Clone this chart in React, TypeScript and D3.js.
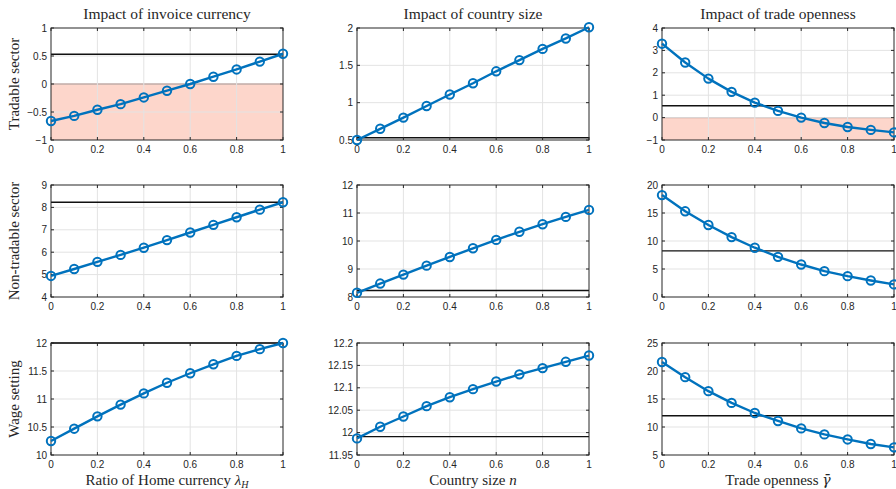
import * as d3 from "d3";

// x grid shared by every panel
const xValues = [0, 0.1, 0.2, 0.3, 0.4, 0.5, 0.6, 0.7, 0.8, 0.9, 1];
const xTicks = [0, 0.2, 0.4, 0.6, 0.8, 1];

const colTitles = ["Impact of invoice currency", "Impact of country size", "Impact of trade openness"];
const rowLabels = ["Tradable sector", "Non-tradable sector", "Wage setting"];

// row 1: tradable sector
const tradInvoice = [-0.66, -0.57, -0.46, -0.36, -0.24, -0.12, 0.0, 0.13, 0.26, 0.40, 0.54];
const tradSize = [0.5, 0.65, 0.8, 0.955, 1.11, 1.26, 1.42, 1.57, 1.72, 1.86, 2.01];
const tradOpen = [3.3, 2.46, 1.74, 1.15, 0.67, 0.3, 0.0, -0.24, -0.42, -0.55, -0.66];
const tradRef = 0.53;

// row 2: non-tradable sector
const nonInvoice = [4.94, 5.25, 5.57, 5.88, 6.2, 6.54, 6.88, 7.22, 7.56, 7.9, 8.23];
const nonSize = [8.15, 8.48, 8.8, 9.12, 9.43, 9.74, 10.04, 10.33, 10.6, 10.86, 11.11];
const nonOpen = [18.2, 15.3, 12.85, 10.7, 8.8, 7.17, 5.8, 4.62, 3.72, 2.94, 2.25];
const nonRef = 8.23;

// row 3: wage setting
const wageInvoice = [10.25, 10.47, 10.69, 10.9, 11.1, 11.29, 11.46, 11.62, 11.77, 11.89, 12.0];
const wageSize = [11.987, 12.013, 12.036, 12.059, 12.079, 12.097, 12.114, 12.13, 12.144, 12.158, 12.172];
const wageOpen = [21.6, 18.9, 16.4, 14.3, 12.5, 11.08, 9.75, 8.68, 7.78, 6.97, 6.37];
const wageRefInvoice = 12.0;
const wageRefSize = 11.991;
const wageRefOpen = 12.0;

const yTicks = [
  [[-1, -0.5, 0, 0.5, 1], [0.5, 1, 1.5, 2], [-1, 0, 1, 2, 3, 4]],
  [[4, 5, 6, 7, 8, 9], [8, 9, 10, 11, 12], [0, 5, 10, 15, 20]],
  [[10, 10.5, 11, 11.5, 12], [11.95, 12, 12.05, 12.1, 12.15, 12.2], [5, 10, 15, 20, 25]],
];
const series = [
  [tradInvoice, tradSize, tradOpen],
  [nonInvoice, nonSize, nonOpen],
  [wageInvoice, wageSize, wageOpen],
];
const refs = [
  [tradRef, tradRef, tradRef],
  [nonRef, nonRef, nonRef],
  [wageRefInvoice, wageRefSize, wageRefOpen],
];
// panels with a shaded negative region
const shaded = [
  [true, false, true],
  [false, false, false],
  [false, false, false],
];

const W = 896;
const H = 489;
const colLeft = [51, 357, 662];
const rowTop = [28, 185, 343];
const pw = 232;
const ph = 112;

const blue = "#0072BD";
const axisColor = "#262626";
const gridColor = "#e3e3e3";
const serif = "'Liberation Serif', 'Times New Roman', serif";
const sans = "'Liberation Sans', Arial, sans-serif";

const fmt = (v: number) => String(v).replace("-", "\u2212");

const Panel = ({ r, c }: { r: number; c: number }) => {
  const ticks = yTicks[r][c];
  const x = d3.scaleLinear().domain([0, 1]).range([0, pw]);
  const y = d3.scaleLinear().domain([ticks[0], ticks[ticks.length - 1]]).range([ph, 0]);
  const vals = series[r][c];
  const pts = xValues.map((xv, i) => [x(xv), y(vals[i])] as [number, number]);
  const line = d3.line()(pts) || "";
  const ref = refs[r][c];
  return (
    <g transform={`translate(${colLeft[c]},${rowTop[r]})`}>
      <rect x={0} y={0} width={pw} height={ph} fill="white" />
      {shaded[r][c] && (
        <g>
          <rect x={0} y={y(0)} width={pw} height={ph - y(0)} fill="#fdd6cb" />
          <line x1={0} x2={pw} y1={y(0)} y2={y(0)} stroke="#7a3b30" strokeWidth={1} />
        </g>
      )}
      {xTicks.slice(1, -1).map((t) => (
        <line key={"gx" + t} x1={x(t)} x2={x(t)} y1={0} y2={ph} stroke={gridColor} strokeWidth={1} />
      ))}
      {ticks.slice(1, -1).map((t) => (
        <line key={"gy" + t} x1={0} x2={pw} y1={y(t)} y2={y(t)} stroke={gridColor} strokeWidth={1} />
      ))}
      <line x1={0} x2={pw} y1={y(ref)} y2={y(ref)} stroke="#111" strokeWidth={1.4} />
      <rect x={0} y={0} width={pw} height={ph} fill="none" stroke={axisColor} strokeWidth={1} />
      {xTicks.map((t) => (
        <g key={"tx" + t}>
          <line x1={x(t)} x2={x(t)} y1={ph} y2={ph - 3} stroke={axisColor} />
          <line x1={x(t)} x2={x(t)} y1={0} y2={3} stroke={axisColor} />
          <text x={x(t)} y={ph + 13} textAnchor="middle" fontSize={10} fontFamily={sans} fill={axisColor}>
            {fmt(t)}
          </text>
        </g>
      ))}
      {ticks.map((t) => (
        <g key={"ty" + t}>
          <line x1={0} x2={3} y1={y(t)} y2={y(t)} stroke={axisColor} />
          <line x1={pw} x2={pw - 3} y1={y(t)} y2={y(t)} stroke={axisColor} />
          <text x={-4} y={y(t) + 3.5} textAnchor="end" fontSize={10} fontFamily={sans} fill={axisColor}>
            {fmt(t)}
          </text>
        </g>
      ))}
      <path d={line} fill="none" stroke={blue} strokeWidth={2.4} strokeLinejoin="round" />
      {pts.map((p, i) => (
        <circle key={i} cx={p[0]} cy={p[1]} r={4.2} fill="none" stroke={blue} strokeWidth={2} />
      ))}
    </g>
  );
};

export default function App() {
  return (
    <div style={{ position: "absolute", left: 0, top: 0 }}>
      <svg width={W} height={H} style={{ display: "block", background: "white" }}>
        {colTitles.map((t, c) => (
          <text key={t} x={colLeft[c] + pw / 2} y={19} textAnchor="middle" fontSize={15.5} fontFamily={serif} fill={axisColor}>
            {t}
          </text>
        ))}
        {rowLabels.map((t, r) => (
          <text
            key={t}
            transform={`translate(19,${rowTop[r] + ph / 2}) rotate(-90)`}
            textAnchor="middle"
            fontSize={15}
            fontFamily={serif}
            fill={axisColor}
          >
            {t}
          </text>
        ))}
        <text x={colLeft[0] + pw / 2} y={485} textAnchor="middle" fontSize={15} fontFamily={serif} fill={axisColor}>
          Ratio of Home currency <tspan fontStyle="italic">λ</tspan>
          <tspan fontStyle="italic" fontSize={10} dy={3}>H</tspan>
        </text>
        <text x={colLeft[1] + pw / 2} y={485} textAnchor="middle" fontSize={15} fontFamily={serif} fill={axisColor}>
          Country size <tspan fontStyle="italic">n</tspan>
        </text>
        <text x={colLeft[2] + pw / 2} y={485} textAnchor="middle" fontSize={15} fontFamily={serif} fill={axisColor}>
          Trade openness <tspan fontStyle="italic" fontFamily="'DejaVu Serif', serif" fontSize={14}>γ̄</tspan>
        </text>
        {[0, 1, 2].map((r) => [0, 1, 2].map((c) => <Panel key={r + "-" + c} r={r} c={c} />))}
      </svg>
    </div>
  );
}
